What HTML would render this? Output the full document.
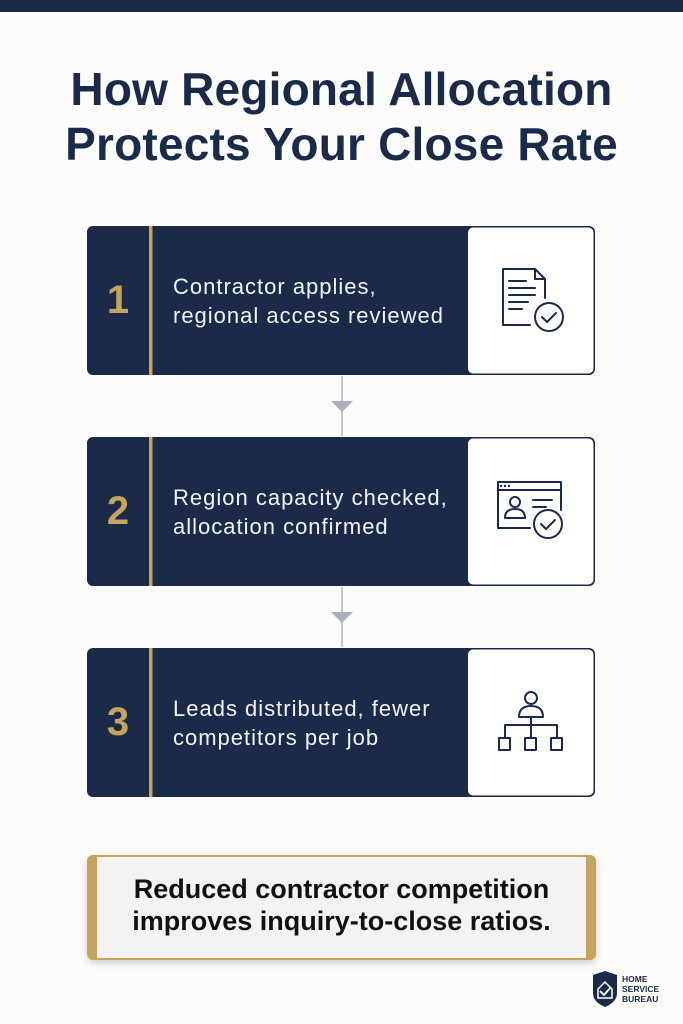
<!DOCTYPE html>
<html><head><meta charset="utf-8"><style>
body{margin:0;width:683px;height:1024px;background:#fcfcfb;position:relative;overflow:hidden;font-family:"Liberation Sans",sans-serif}
.t{position:absolute;white-space:nowrap}
.title{left:0;width:683px;text-align:center;font-weight:bold;font-size:46px;color:#1b2a48;letter-spacing:0.2px}
.num{font-weight:bold;font-size:40px;color:#c6a45e;width:60px;text-align:center;left:88px}
.step{left:173px;font-size:22px;line-height:29px;color:#f2f4f7;letter-spacing:1px}
</style></head><body>
<svg width="683" height="1024" style="position:absolute;left:0;top:0">
<defs><filter id="sh" x="-10%" y="-20%" width="120%" height="150%"><feDropShadow dx="0" dy="3" stdDeviation="4" flood-color="#000" flood-opacity="0.18"/></filter></defs>
<rect x="0" y="0" width="683" height="12" fill="#1b2a48"/>
<g>
<rect x="87" y="226" width="508" height="149" rx="6" fill="#1b2a48"/>
<rect x="468" y="227.5" width="125.5" height="146" rx="5" fill="#fff"/>
<rect x="87" y="437" width="508" height="149" rx="6" fill="#1b2a48"/>
<rect x="468" y="438.5" width="125.5" height="146" rx="5" fill="#fff"/>
<rect x="87" y="648" width="508" height="149" rx="6" fill="#1b2a48"/>
<rect x="468" y="649.5" width="125.5" height="146" rx="5" fill="#fff"/>
<rect x="149" y="226" width="3.5" height="149" fill="#c6a45e"/>
<rect x="149" y="437" width="3.5" height="149" fill="#c6a45e"/>
<rect x="149" y="648" width="3.5" height="149" fill="#c6a45e"/>
</g>
<g stroke="#b0b6bf" stroke-width="1.5"><line x1="342" y1="376" x2="342" y2="436"/><line x1="342" y1="587" x2="342" y2="647"/></g>
<g fill="#a9b0ba"><polygon points="331,401 353,401 342,412"/><polygon points="331,612 353,612 342,623"/></g>
<g fill="none" stroke="#1b2a48" stroke-width="2" stroke-linecap="round" stroke-linejoin="round">
<path d="M530 325 H503 V269 H535 L545 279 V298"/><path d="M535 269 V279 H545"/>
<line x1="509" y1="281" x2="526" y2="281"/><line x1="509" y1="288" x2="535" y2="288"/><line x1="509" y1="295" x2="535" y2="295"/><line x1="509" y1="302" x2="528" y2="302"/><line x1="509" y1="309" x2="522" y2="309"/>
<circle cx="549" cy="317" r="14"/><path d="M542 317 l5 5 l9 -9"/>
<path d="M530 528 H498 V482 H561 V510"/><line x1="498" y1="490" x2="561" y2="490"/>
<circle cx="515" cy="502" r="5"/><path d="M505 518 q0 -9 10 -9 q10 0 10 9 z"/>
<line x1="533" y1="500" x2="552" y2="500"/><line x1="533" y1="507" x2="546" y2="507"/>
<circle cx="548" cy="524" r="14" fill="#fff"/><path d="M541 524 l5 5 l9 -9"/>
<circle cx="531" cy="698" r="6"/><path d="M519 717 q0 -11 12 -11 q12 0 12 11 z"/>
<path d="M531 717 V725 M505 738 V725 H557 V738 M531 725 V738"/>
<rect x="499" y="738" width="11" height="12"/><rect x="525" y="738" width="11" height="12"/><rect x="551" y="738" width="11" height="12"/>
</g>
<g fill="#1b2a48"><circle cx="501" cy="486" r="1.2"/><circle cx="505" cy="486" r="1.2"/><circle cx="509" cy="486" r="1.2"/></g>
<rect x="87" y="855" width="509" height="105" rx="6" fill="#c6a45e" filter="url(#sh)"/>
<rect x="97" y="857" width="489" height="101" fill="#f3f3f1"/>
<path d="M593 975 L605 971 L617 975 V993 Q617 1002 605 1007 Q593 1002 593 993 Z" fill="#1b2a48"/>
<path d="M598 989 L605 982 L612 989 V998 H598 Z" fill="none" stroke="#fff" stroke-width="1.5"/>
<path d="M600 991 l4 4 l7 -8" fill="none" stroke="#fff" stroke-width="1.8"/>
</svg>
<div class="t title" style="top:62px">How Regional Allocation</div>
<div class="t title" style="top:117px">Protects Your Close Rate</div>
<div class="t num" style="top:278px">1</div>
<div class="t num" style="top:489px">2</div>
<div class="t num" style="top:700px">3</div>
<div class="t step" style="top:272px">Contractor applies,<br>regional access reviewed</div>
<div class="t step" style="top:483px">Region capacity checked,<br>allocation confirmed</div>
<div class="t step" style="top:694px">Leads distributed, fewer<br>competitors per job</div>
<div class="t" style="left:87px;width:509px;top:873px;text-align:center;font-size:27px;line-height:32px;color:#111;font-weight:bold">Reduced contractor competition<br>improves inquiry-to-close ratios.</div>
<div class="t" style="left:622px;top:974px;font-size:8.5px;line-height:10px;font-weight:bold;color:#1b2a48">HOME<br>SERVICE<br>BUREAU</div>
</body></html>
